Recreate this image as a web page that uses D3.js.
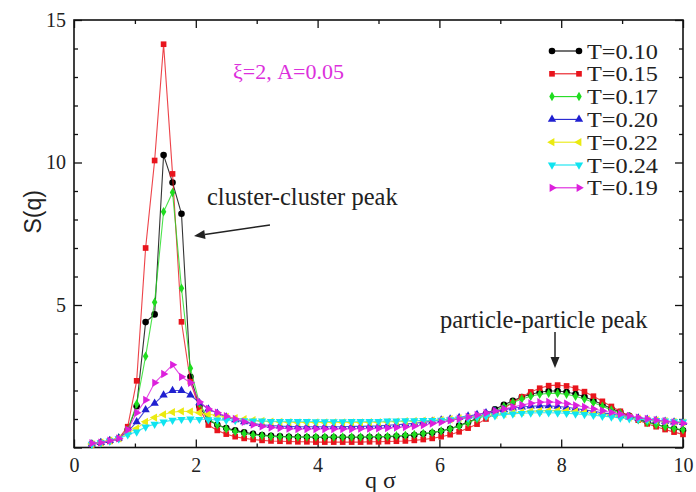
<!DOCTYPE html>
<html>
<head>
<meta charset="utf-8">
<script src="https://cdn.jsdelivr.net/npm/d3@7"></script>
<style>
  body { margin: 0; background: #fff; }
  svg { display: block; }
</style>
</head>
<body>
<svg id="chart" width="696" height="492"></svg>
<script>
// wave numbers q·σ of the sampled points
const qValues = [
  0.294,0.441,0.588,0.735,0.882,1.029,1.176,1.324,1.471,1.618,
  1.765,1.912,2.059,2.206,2.353,2.500,2.647,2.794,2.941,3.088,
  3.235,3.382,3.529,3.676,3.824,3.971,4.118,4.265,4.412,4.559,
  4.706,4.853,5.000,5.147,5.294,5.441,5.588,5.735,5.882,6.029,
  6.176,6.324,6.471,6.618,6.765,6.912,7.059,7.206,7.353,7.500,
  7.647,7.794,7.941,8.088,8.235,8.382,8.529,8.676,8.824,8.971,
  9.118,9.265,9.412,9.559,9.706,9.853,10.000
];

// S(q) for each temperature
const sT010 = [
  0.12,0.17,0.23,0.32,0.62,1.45,4.40,4.67,10.26,9.30,
  8.20,2.48,1.45,0.95,0.80,0.68,0.60,0.53,0.48,0.44,
  0.41,0.39,0.38,0.37,0.37,0.36,0.36,0.36,0.36,0.36,
  0.36,0.37,0.37,0.38,0.39,0.41,0.44,0.48,0.52,0.58,
  0.66,0.77,0.89,1.03,1.18,1.34,1.50,1.64,1.77,1.87,
  1.94,1.98,1.98,1.95,1.88,1.78,1.65,1.51,1.37,1.24,
  1.11,1.00,0.90,0.81,0.73,0.66,0.60
];
const sT015 = [
  0.11,0.16,0.22,0.31,0.73,2.34,7.00,10.07,14.15,9.60,
  4.41,2.31,1.37,0.79,0.60,0.47,0.38,0.32,0.28,0.25,
  0.23,0.22,0.21,0.20,0.20,0.19,0.19,0.19,0.19,0.19,
  0.19,0.20,0.20,0.21,0.22,0.23,0.25,0.28,0.32,0.38,
  0.45,0.55,0.68,0.82,1.00,1.18,1.38,1.58,1.78,1.95,
  2.08,2.17,2.19,2.16,2.08,1.96,1.80,1.62,1.44,1.27,
  1.10,0.96,0.83,0.73,0.63,0.54,0.46
];
const sT017 = [
  0.12,0.17,0.24,0.33,0.60,1.53,3.20,5.10,8.27,8.95,
  5.59,2.78,1.55,1.00,0.80,0.66,0.56,0.49,0.44,0.41,
  0.39,0.38,0.37,0.37,0.37,0.37,0.37,0.37,0.37,0.37,
  0.37,0.38,0.38,0.39,0.41,0.43,0.46,0.49,0.53,0.58,
  0.65,0.75,0.87,1.00,1.14,1.29,1.44,1.58,1.70,1.80,
  1.87,1.90,1.90,1.87,1.80,1.70,1.58,1.45,1.32,1.20,
  1.08,0.97,0.88,0.80,0.73,0.67,0.62
];
const sT020 = [
  0.12,0.17,0.24,0.33,0.55,0.90,1.32,1.55,1.84,2.00,
  2.00,1.84,1.57,1.35,1.20,1.07,0.97,0.90,0.84,0.80,
  0.77,0.75,0.74,0.73,0.73,0.73,0.73,0.73,0.73,0.74,
  0.74,0.75,0.76,0.78,0.80,0.82,0.85,0.88,0.92,0.96,
  1.00,1.05,1.10,1.16,1.22,1.28,1.33,1.38,1.42,1.45,
  1.46,1.46,1.44,1.41,1.37,1.32,1.27,1.22,1.17,1.12,
  1.07,1.03,0.99,0.95,0.92,0.89,0.87
];
const sT022 = [
  0.12,0.17,0.24,0.32,0.50,0.67,0.90,1.05,1.16,1.24,
  1.27,1.26,1.22,1.17,1.12,1.07,1.03,0.99,0.96,0.93,
  0.91,0.90,0.89,0.88,0.88,0.88,0.88,0.88,0.88,0.88,
  0.88,0.89,0.89,0.90,0.91,0.92,0.93,0.94,0.95,0.97,
  0.99,1.02,1.05,1.08,1.11,1.15,1.18,1.21,1.24,1.27,
  1.28,1.29,1.29,1.28,1.26,1.23,1.20,1.17,1.13,1.09,
  1.05,1.01,0.98,0.95,0.92,0.90,0.88
];
const sT024 = [
  0.12,0.17,0.23,0.31,0.45,0.55,0.72,0.82,0.90,0.96,
  0.99,1.00,0.99,0.98,0.97,0.96,0.95,0.94,0.93,0.93,
  0.92,0.92,0.92,0.92,0.92,0.91,0.91,0.91,0.91,0.92,
  0.92,0.92,0.92,0.93,0.93,0.94,0.94,0.95,0.95,0.96,
  0.98,1.00,1.03,1.06,1.09,1.12,1.15,1.18,1.20,1.21,
  1.22,1.22,1.21,1.20,1.18,1.16,1.13,1.10,1.07,1.04,
  1.01,0.99,0.97,0.95,0.93,0.91,0.90
];
const sT019 = [
  0.15,0.17,0.24,0.32,0.62,1.22,1.67,2.27,2.58,2.90,
  2.48,2.27,1.60,1.35,1.22,1.10,1.00,0.90,0.80,0.74,
  0.70,0.68,0.66,0.65,0.65,0.65,0.65,0.65,0.65,0.65,
  0.66,0.66,0.67,0.68,0.70,0.72,0.75,0.79,0.84,0.89,
  0.95,1.01,1.07,1.14,1.21,1.28,1.35,1.42,1.49,1.55,
  1.59,1.60,1.58,1.54,1.48,1.42,1.35,1.29,1.23,1.17,
  1.11,1.05,1.00,0.96,0.92,0.88,0.85
];

const seriesLabels = ["T=0.10","T=0.15","T=0.17","T=0.20","T=0.22","T=0.24","T=0.19"];
const seriesValues = [sT010, sT015, sT017, sT020, sT022, sT024, sT019];
const seriesColors = ["#000000","#e8141c","#1fdc1f","#2020d0","#eaea10","#10e4f0","#dc20dc"];
// marker shape and rotation (deg) per series
const seriesShapes = [
  [d3.symbolCircle, 0], [d3.symbolSquare, 0], [d3.symbolDiamond, 0],
  [d3.symbolTriangle, 0], [d3.symbolTriangle, -90], [d3.symbolTriangle, 180],
  [d3.symbolTriangle, 90]
];

const xMajorTicks = [0, 2, 4, 6, 8, 10];
const xMinorTicks = [1, 3, 5, 7, 9];
const yMajorTicks = [0, 5, 10, 15];
const yLabelledTicks = [5, 10, 15];
const yMinorTicks = [1, 2, 3, 4, 6, 7, 8, 9, 11, 12, 13, 14];

const svg = d3.select("#chart");
const plotL = 74, plotR = 683, plotT = 20, plotB = 447.5;
const x = d3.scaleLinear().domain([0, 10]).range([plotL, plotR]);
const y = d3.scaleLinear().domain([0, 15]).range([plotB, plotT]);

const serif = "'Liberation Serif', 'Times New Roman', serif";
const sans = "'Liberation Sans', Arial, sans-serif";

// frame
svg.append("rect")
  .attr("x", plotL).attr("y", plotT)
  .attr("width", plotR - plotL).attr("height", plotB - plotT)
  .attr("fill", "none").attr("stroke", "#111").attr("stroke-width", 1.6);

function styleAxis(g) {
  g.select(".domain").remove();
  g.selectAll(".tick line").attr("stroke", "#111").attr("stroke-width", 1.3);
  g.selectAll(".tick text").attr("fill", "#222")
    .style("font-family", serif).style("font-size", "20px");
}

// ticks point inward on all four sides
svg.append("g").attr("transform", `translate(0,${plotB})`)
  .call(d3.axisBottom(x).tickValues(xMajorTicks).tickSize(-8).tickPadding(10).tickFormat(d3.format("d")))
  .call(styleAxis);
svg.append("g").attr("transform", `translate(0,${plotB})`)
  .call(d3.axisBottom(x).tickValues(xMinorTicks).tickSize(-4).tickFormat(""))
  .call(styleAxis);
svg.append("g").attr("transform", `translate(0,${plotT})`)
  .call(d3.axisTop(x).tickValues(xMajorTicks).tickSize(-8).tickFormat(""))
  .call(styleAxis);
svg.append("g").attr("transform", `translate(0,${plotT})`)
  .call(d3.axisTop(x).tickValues(xMinorTicks).tickSize(-4).tickFormat(""))
  .call(styleAxis);

svg.append("g").attr("transform", `translate(${plotL},0)`)
  .call(d3.axisLeft(y).tickValues(yMajorTicks).tickSize(-8).tickPadding(8)
    .tickFormat(d => yLabelledTicks.includes(d) ? d3.format("d")(d) : ""))
  .call(styleAxis);
svg.append("g").attr("transform", `translate(${plotL},0)`)
  .call(d3.axisLeft(y).tickValues(yMinorTicks).tickSize(-4).tickFormat(""))
  .call(styleAxis);
svg.append("g").attr("transform", `translate(${plotR},0)`)
  .call(d3.axisRight(y).tickValues(yMajorTicks).tickSize(-8).tickFormat(""))
  .call(styleAxis);
svg.append("g").attr("transform", `translate(${plotR},0)`)
  .call(d3.axisRight(y).tickValues(yMinorTicks).tickSize(-4).tickFormat(""))
  .call(styleAxis);

// axis titles
svg.append("text")
  .attr("transform", `translate(41,${(plotT + plotB) / 2 - 22}) rotate(-90)`)
  .attr("text-anchor", "middle")
  .attr("fill", "#222").style("font-family", sans).style("font-size", "23px")
  .text("S(q)");
svg.append("text")
  .attr("x", (plotL + plotR) / 2 + 2).attr("y", 488)
  .attr("text-anchor", "middle")
  .attr("fill", "#222").style("font-family", serif).style("font-size", "24px")
  .text("q σ");

// series: thin connecting line plus markers
const line = d3.line().x((d, i) => x(qValues[i])).y(d => y(d));
const markerSize = [34, 32, 26, 30, 30, 30, 30];

function drawMarker(g, k, cx, cy) {
  const [shape, rot] = seriesShapes[k];
  g.append("path")
    .attr("d", d3.symbol().type(shape).size(markerSize[k])())
    .attr("transform", `translate(${cx},${cy}) rotate(${rot})`)
    .attr("fill", seriesColors[k]);
}

seriesValues.forEach((vals, k) => {
  const g = svg.append("g");
  g.append("path")
    .attr("d", line(vals))
    .attr("fill", "none")
    .attr("stroke", seriesColors[k])
    .attr("stroke-opacity", 0.8)
    .attr("stroke-width", 1.1);
  vals.forEach((v, i) => drawMarker(g, k, x(qValues[i]), y(v)));
});

// legend: rows are tight, so the labels use a compact size stretched to full width
const legendX0 = 552, legendX1 = 579, legendTop = 51, legendStep = 22.8;
seriesLabels.forEach((lab, k) => {
  const ly = legendTop + k * legendStep;
  const g = svg.append("g");
  g.append("line").attr("x1", legendX0).attr("x2", legendX1)
    .attr("y1", ly).attr("y2", ly)
    .attr("stroke", seriesColors[k]).attr("stroke-width", 1.1);
  drawMarker(g, k, legendX0, ly);
  drawMarker(g, k, legendX1, ly);
  g.append("text").attr("x", 587).attr("y", ly + 7.5)
    .attr("textLength", 71).attr("lengthAdjust", "spacingAndGlyphs")
    .attr("fill", "#222").style("font-family", serif).style("font-size", "20.5px")
    .text(lab);
});

// annotations
svg.append("text")
  .attr("x", 233).attr("y", 79)
  .attr("fill", "#dc30dc").style("font-family", serif).style("font-size", "22px")
  .text("ξ=2, A=0.05");

svg.append("text")
  .attr("x", 207).attr("y", 205)
  .attr("fill", "#222").style("font-family", serif).style("font-size", "24.5px")
  .text("cluster-cluster peak");

svg.append("text")
  .attr("x", 440).attr("y", 328)
  .attr("fill", "#222").style("font-family", serif).style("font-size", "24.5px")
  .text("particle-particle peak");

function arrow(x1, y1, x2, y2) {
  const ang = Math.atan2(y2 - y1, x2 - x1);
  const len = 11, half = 4.5;
  const bx = x2 - len * Math.cos(ang), by = y2 - len * Math.sin(ang);
  svg.append("line").attr("x1", x1).attr("y1", y1).attr("x2", bx).attr("y2", by)
    .attr("stroke", "#222").attr("stroke-width", 1.5);
  const px = -Math.sin(ang) * half, py = Math.cos(ang) * half;
  svg.append("path")
    .attr("d", `M${x2},${y2}L${bx + px},${by + py}L${bx - px},${by - py}Z`)
    .attr("fill", "#222");
}
arrow(270, 225, 194, 236);
arrow(555, 332, 555, 368);
</script>
</body>
</html>
